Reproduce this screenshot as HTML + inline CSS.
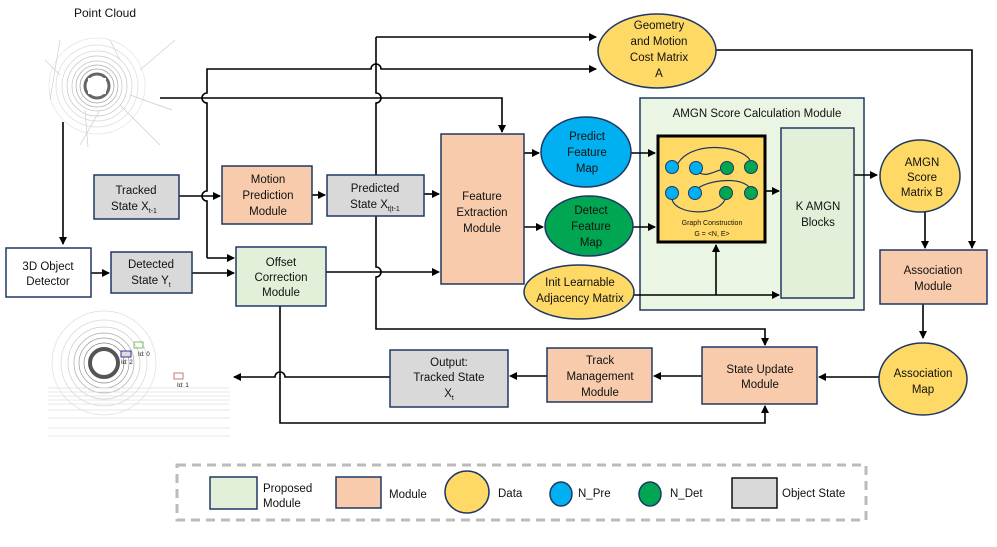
<!DOCTYPE html>
<html><head><meta charset="utf-8"><style>
html,body{margin:0;padding:0;background:#fff;}
svg{display:block;font-family:"Liberation Sans",Arial,sans-serif;}
text{fill:#111;}
</style></head><body>
<svg width="997" height="547" viewBox="0 0 997 547" xmlns="http://www.w3.org/2000/svg">
<defs>
<marker id="a" markerWidth="8" markerHeight="8" refX="7" refY="4" orient="auto" markerUnits="userSpaceOnUse">
<path d="M0,0 L8,4 L0,8 z" fill="#000"/></marker>
</defs>
<!-- Point cloud top -->
<text x="105" y="17" font-size="12" text-anchor="middle">Point Cloud</text>
<g fill="none" stroke="#c4c4c4" stroke-width="0.7">
<circle cx="97" cy="86" r="12" stroke="#666" stroke-width="3"/>
<circle cx="97" cy="86" r="17" stroke="#999"/>
<circle cx="97" cy="86" r="21" stroke="#aaa"/>
<circle cx="97" cy="86" r="25"/>
<circle cx="97" cy="86" r="30"/>
<circle cx="97" cy="86" r="35" stroke="#d4d4d4"/>
<circle cx="97" cy="86" r="41" stroke="#ddd"/>
<circle cx="97" cy="86" r="48" stroke="#e4e4e4"/>
<path d="M60,40 L50,100 M110,40 L120,60 M140,70 L175,40 M100,110 L80,145 M120,105 L160,145 M60,75 L45,60 M85,110 L88,147 M130,95 L172,110" stroke="#ccc"/>
</g>
<rect x="88" y="78" width="18" height="16" fill="#fff"/>
<!-- bottom point cloud -->
<g fill="none" stroke="#ccc" stroke-width="0.7">
<circle cx="104" cy="363" r="14" stroke="#555" stroke-width="4"/>
<circle cx="104" cy="363" r="20" stroke="#888"/>
<circle cx="104" cy="363" r="25" stroke="#999"/>
<circle cx="104" cy="363" r="30" stroke="#aaa"/>
<circle cx="104" cy="363" r="36"/>
<circle cx="104" cy="363" r="43" stroke="#d5d5d5"/>
<circle cx="104" cy="363" r="52" stroke="#ddd"/>
<path d="M48,388 H230 M48,392 H230 M48,396 H230 M48,400 H230 M48,404 H230 M48,410 H230 M48,418 H230 M48,428 H230 M48,436 H230" stroke="#e0e0e0"/>
</g>
<rect x="134" y="342" width="9" height="6" fill="none" stroke="#7bbf6a"/>
<text x="138" y="356" font-size="6">Id: 0</text>
<rect x="121" y="351" width="10" height="6" fill="#ddd" stroke="#33a" stroke-width="1"/>
<text x="121" y="364" font-size="6">Id: 2</text>
<rect x="174" y="373" width="9" height="6" fill="none" stroke="#c77"/>
<text x="177" y="387" font-size="6">Id: 1</text>

<rect x="640" y="98" width="224" height="212" fill="#ebf5e3" stroke="#1f3864" stroke-width="1.5"/>

<g stroke="#000" stroke-width="1.6" fill="none">
<path d="M63,122 V244" marker-end="url(#a)"/>
<path d="M160,98 H502 V132" marker-end="url(#a)"/>
<path d="M376,37 H596" marker-end="url(#a)"/>
<path d="M376,37 V93 a5,5 0 0 1 0,10 V175 M376,216 V267 a5,5 0 0 1 0,10 V329 H765 V345" marker-end="url(#a)"/>
<path d="M207,258 V201 a5,5 0 0 1 0,-10 V103 a5,5 0 0 1 0,-10 V69 H371 a5,5 0 0 1 10,0 H596" marker-end="url(#a)"/>
<path d="M207,258 H234" marker-end="url(#a)"/>
<path d="M179,196 H220" marker-end="url(#a)"/>
<path d="M312,195 H325" marker-end="url(#a)"/>
<path d="M424,194 H439" marker-end="url(#a)"/>
<path d="M91,273 H109" marker-end="url(#a)"/>
<path d="M192,273 H234" marker-end="url(#a)"/>
<path d="M326,272 H439" marker-end="url(#a)"/>
<path d="M280,306 V423 H765 V406" marker-end="url(#a)"/>
<path d="M524,153 H539" marker-end="url(#a)"/>
<path d="M524,227 H543" marker-end="url(#a)"/>
<path d="M631,153 H655" marker-end="url(#a)"/>
<path d="M633,227 H655" marker-end="url(#a)"/>
<path d="M633,295 H779" marker-end="url(#a)"/>
<path d="M716,295 V245" marker-end="url(#a)"/>
<path d="M765,191 H779" marker-end="url(#a)"/>
<path d="M854,175 H877" marker-end="url(#a)"/>
<path d="M716,50 H972 V248" marker-end="url(#a)"/>
<path d="M925,212 V248" marker-end="url(#a)"/>
<path d="M923,304 V338" marker-end="url(#a)"/>
<path d="M880,377 H819" marker-end="url(#a)"/>
<path d="M702,376 H654" marker-end="url(#a)"/>
<path d="M547,376 H510" marker-end="url(#a)"/>
<path d="M390,377 H285 a5,5 0 0 0 -10,0 H234" marker-end="url(#a)"/>
</g>

<g stroke="#1f3864" stroke-width="1.5">
<rect x="6" y="248" width="85" height="49" fill="#fff"/>
<rect x="111" y="252" width="81" height="41" fill="#d9d9d9"/>
<rect x="94" y="175" width="85" height="44" fill="#d9d9d9"/>
<rect x="222" y="166" width="90" height="58" fill="#f8cbad"/>
<rect x="327" y="175" width="97" height="41" fill="#d9d9d9"/>
<rect x="236" y="247" width="90" height="59" fill="#e2f0d9"/>
<rect x="441" y="134" width="83" height="150" fill="#f8cbad"/>
<ellipse cx="657" cy="51" rx="59" ry="37" fill="#ffd966"/>
<ellipse cx="586" cy="152" rx="45" ry="35" fill="#00b0f0"/>
<ellipse cx="589" cy="226" rx="44" ry="30" fill="#00a651"/>
<ellipse cx="579" cy="292" rx="55" ry="27" fill="#ffd966"/>
<rect x="658" y="136" width="107" height="106" fill="#ffd966" stroke="#000" stroke-width="3"/>
<rect x="781" y="128" width="73" height="170" fill="#e2f0d9"/>
<ellipse cx="920" cy="176" rx="40" ry="36" fill="#ffd966"/>
<rect x="880" y="250" width="107" height="54" fill="#f8cbad"/>
<ellipse cx="923" cy="379" rx="44" ry="36" fill="#ffd966"/>
<rect x="702" y="347" width="115" height="57" fill="#f8cbad"/>
<rect x="547" y="348" width="105" height="54" fill="#f8cbad"/>
<rect x="390" y="350" width="118" height="57" fill="#d9d9d9"/>
</g>
<g fill="none" stroke="#1f3864" stroke-width="1.2">
<path d="M677,165 C690,140 740,145 750,160"/>
<path d="M696,170 C705,180 715,170 727,168"/>
<path d="M696,190 C705,180 745,175 751,190"/>
<path d="M672,199 C675,215 720,218 726,197"/>
</g>
<g stroke="#1f3864" stroke-width="1">
<circle cx="672" cy="167" r="6.5" fill="#00b0f0"/><circle cx="696" cy="168" r="6.5" fill="#00b0f0"/>
<circle cx="727" cy="168" r="6.5" fill="#00a651"/><circle cx="751" cy="167" r="6.5" fill="#00a651"/>
<circle cx="672" cy="193" r="6.5" fill="#00b0f0"/><circle cx="695" cy="193" r="6.5" fill="#00b0f0"/>
<circle cx="726" cy="193" r="6.5" fill="#00a651"/><circle cx="751" cy="193" r="6.5" fill="#00a651"/>
</g>
<text x="712" y="225" font-size="7" text-anchor="middle">Graph Construction</text>
<text x="712" y="236" font-size="7" text-anchor="middle">G = &lt;N, E&gt;</text>

<g font-size="11.5" text-anchor="middle">
<text x="48" y="270">3D Object</text><text x="48" y="285">Detector</text>
<text x="151" y="268">Detected</text><text x="151" y="284">State  Y<tspan font-size="7" dy="3">t</tspan></text>
<text x="136" y="194">Tracked</text><text x="134" y="210">State  X<tspan font-size="7" dy="3">t-1</tspan></text>
<text x="268" y="183">Motion</text><text x="268" y="199">Prediction</text><text x="268" y="215">Module</text>
<text x="375" y="192">Predicted</text><text x="375" y="208">State  X<tspan font-size="7" dy="3">t|t-1</tspan></text>
<text x="281" y="266">Offset</text><text x="281" y="281">Correction</text><text x="281" y="296">Module</text>
<text x="482" y="200">Feature</text><text x="482" y="216">Extraction</text><text x="482" y="232">Module</text>
<text x="659" y="29">Geometry</text><text x="659" y="45">and Motion</text><text x="659" y="61">Cost Matrix</text><text x="659" y="77">A</text>
<text x="757" y="117">AMGN Score Calculation Module</text>
<text x="587" y="140">Predict</text><text x="587" y="156">Feature</text><text x="587" y="172">Map</text>
<text x="591" y="214">Detect</text><text x="591" y="230">Feature</text><text x="591" y="246">Map</text>
<text x="580" y="286">Init Learnable</text><text x="580" y="302">Adjacency Matrix</text>
<text x="818" y="210">K AMGN</text><text x="818" y="226">Blocks</text>
<text x="922" y="166">AMGN</text><text x="922" y="181">Score</text><text x="922" y="196">Matrix  B</text>
<text x="933" y="274">Association</text><text x="933" y="290">Module</text>
<text x="923" y="377">Association</text><text x="923" y="393">Map</text>
<text x="760" y="373">State Update</text><text x="760" y="388">Module</text>
<text x="600" y="364">Track</text><text x="600" y="380">Management</text><text x="600" y="396">Module</text>
<text x="449" y="366">Output:</text><text x="449" y="381">Tracked State</text><text x="449" y="397">X<tspan font-size="7" dy="3">t</tspan></text>
</g>

<rect x="177" y="465" width="689" height="55" fill="none" stroke="#bbb" stroke-width="3" stroke-dasharray="9,6"/>
<g stroke="#1f3864" stroke-width="1.5">
<rect x="210" y="477" width="47" height="32" fill="#e2f0d9"/>
<rect x="336" y="477" width="45" height="31" fill="#f8cbad"/>
<ellipse cx="467" cy="492" rx="22" ry="21" fill="#ffd966"/>
<ellipse cx="561" cy="494" rx="11" ry="12" fill="#00b0f0"/>
<ellipse cx="650" cy="494" rx="11" ry="12" fill="#00a651"/>
<rect x="732" y="478" width="45" height="30" fill="#d9d9d9" stroke="#111"/>
</g>
<g font-size="11.5">
<text x="263" y="492">Proposed</text><text x="263" y="507">Module</text>
<text x="389" y="498">Module</text>
<text x="498" y="497">Data</text>
<text x="578" y="497">N_Pre</text>
<text x="670" y="497">N_Det</text>
<text x="782" y="497">Object State</text>
</g>
</svg>
</body></html>
